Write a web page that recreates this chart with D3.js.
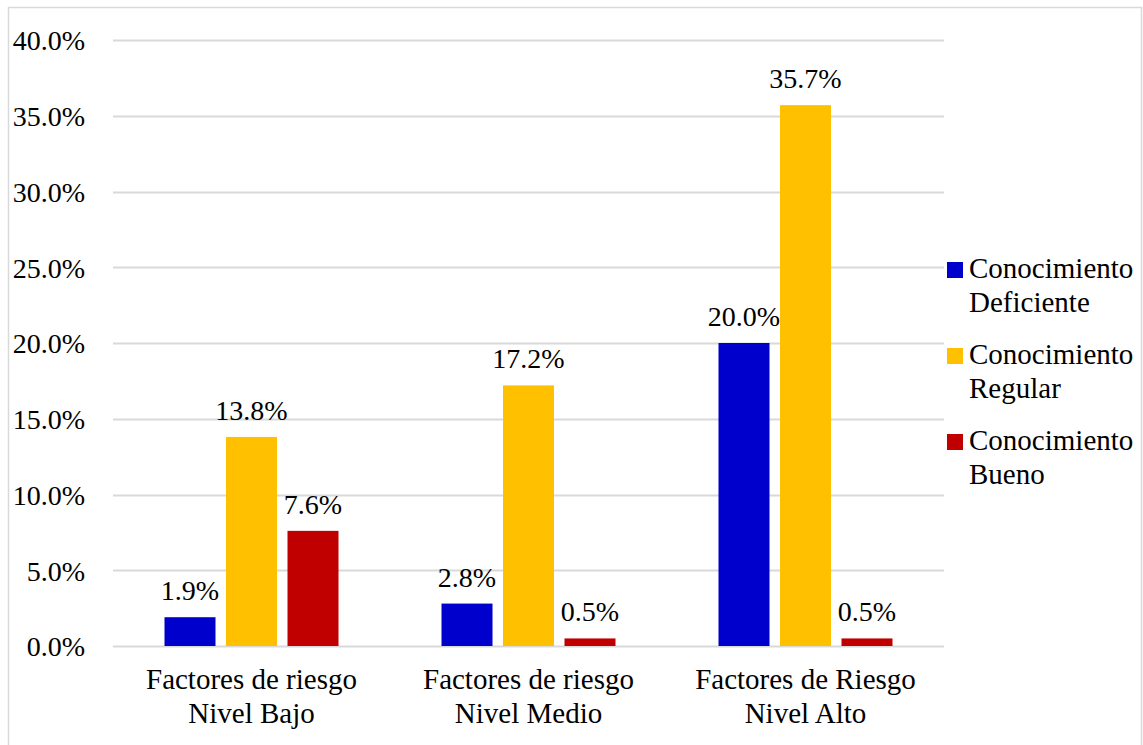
<!DOCTYPE html>
<html><head><meta charset="utf-8">
<script src="https://cdn.jsdelivr.net/npm/d3@7"></script>
<style>body{margin:0;background:#fff}svg{display:block}</style>
</head><body><svg id="c" width="1143" height="745"></svg>
<script>
const categories = [["Factores de riesgo","Nivel Bajo"],["Factores de riesgo","Nivel Medio"],["Factores de Riesgo","Nivel Alto"]];
const seriesNames = [["Conocimiento","Deficiente"],["Conocimiento","Regular"],["Conocimiento","Bueno"]];
const deficiente = [1.9, 2.8, 20.0];
const regular = [13.8, 17.2, 35.7];
const bueno = [7.6, 0.5, 0.5];
const yTicks = [0,5,10,15,20,25,30,35,40];
const colors = ["#0000CC","#FFC000","#C00000"];
const series = [deficiente, regular, bueno];

const FONT = "'Liberation Serif', 'Times New Roman', Times, 'DejaVu Serif', serif";
const svg = d3.select("#c").attr("font-family", FONT).style("font-family", FONT);
const fs = 29, fsNum = 28;
function T(sel, size){ return sel.style("font-family", FONT).style("font-size", (size||fs)+"px").attr("fill","#000"); }

svg.append("rect").attr("x",8.5).attr("y",7.5).attr("width",1133).attr("height",760)
  .attr("fill","none").attr("stroke","#d9d9d9").attr("stroke-width",1.5);

const x0 = d3.scaleBand().domain(d3.range(categories.length)).range([113,944]);
const y = d3.scaleLinear().domain([0,40]).range([646,40]);

svg.append("g").selectAll("line").data(yTicks).join("line")
  .attr("x1",113).attr("x2",944).attr("y1",d=>Math.round(y(d))+0.5).attr("y2",d=>Math.round(y(d))+0.5)
  .attr("stroke","#d9d9d9").attr("stroke-width",2);

const yAxis = d3.axisLeft(y).tickValues(yTicks).tickSize(0).tickPadding(28).tickFormat(d=>d.toFixed(1)+"%");
const ga = svg.append("g").attr("transform","translate(113,0)").call(yAxis);
ga.attr("font-family", FONT).attr("font-size", fsNum);
ga.select(".domain").remove();
T(ga.selectAll("text"), fsNum).attr("dy","0.35em");

const bw = 51, pitch = 61.5;
series.forEach((s,si)=>{
  const g = svg.append("g");
  s.forEach((v,ci)=>{
    const cx = x0(ci)+x0.bandwidth()/2 + (si-1)*pitch;
    g.append("rect").attr("x",cx-bw/2).attr("y",y(v)).attr("width",bw).attr("height",y(0)-y(v)).attr("fill",colors[si]);
    T(g.append("text"), fsNum).attr("x",cx).attr("y",y(v)-17).attr("text-anchor","middle").text(v.toFixed(1)+"%");
  });
});

categories.forEach((c,ci)=>{
  const cx = x0(ci)+x0.bandwidth()/2;
  c.forEach((line,li)=>{
    T(svg.append("text")).attr("x",cx).attr("y",689+li*34).attr("text-anchor","middle").text(line);
  });
});

seriesNames.forEach((n,i)=>{
  const top = 278 + i*86;
  svg.append("rect").attr("x",947).attr("y",top-16).attr("width",16).attr("height",16).attr("fill",colors[i]);
  n.forEach((line,li)=>{
    T(svg.append("text")).attr("x",969).attr("y",top+li*34).text(line);
  });
});
</script></body></html>
